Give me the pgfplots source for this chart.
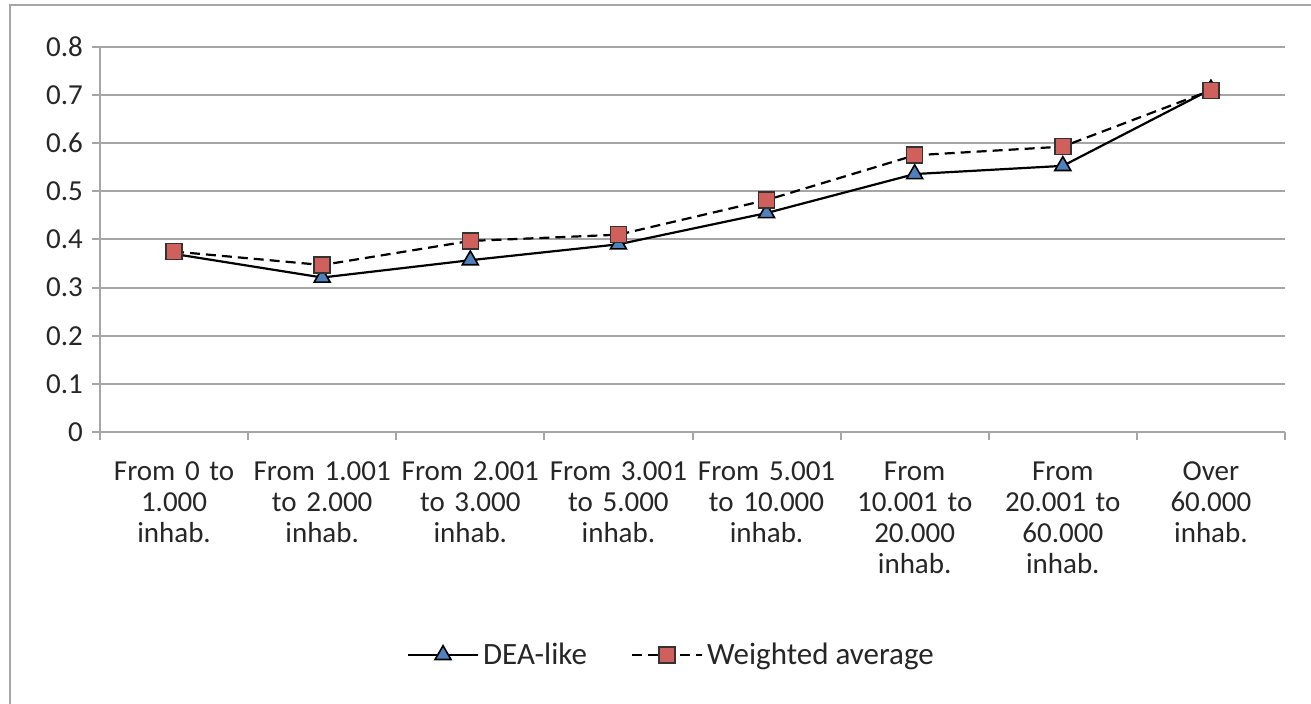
\documentclass[border=0pt]{standalone}
\usepackage{pgfplots}
\pgfplotsset{compat=1.18}
\usepackage{fontspec}
\setmainfont{Carlito}
\definecolor{gridgray}{HTML}{A6A6A6}
\definecolor{deablue}{HTML}{4F81BD}
\definecolor{wred}{HTML}{D0605C}
\definecolor{txt}{HTML}{262626}
\begin{document}
\begin{tikzpicture}[x=1pt,y=1pt]
\path[use as bounding box] (-50,-136) rectangle (605.5,216);
\draw[gridgray, line width=1pt] (-45,-137) -- (-45,213.5) -- (606,213.5);
\begin{axis}[
  scale only axis,
  width=592.5pt, height=192.5pt,
  xmin=0.5, xmax=8.5, ymin=0, ymax=0.8,
  axis x line*=bottom, axis y line*=left,
  axis line style={gridgray, line width=1pt, -},
  xtick={0.5,1.5,...,8.5},
  x tick label as interval,
  xticklabels={{From 0 to\\1.000\\inhab.},{From 1.001\\to 2.000\\inhab.},{From 2.001\\to 3.000\\inhab.},{From 3.001\\to 5.000\\inhab.},{From 5.001\\to 10.000\\inhab.},{From\\10.001 to\\20.000\\inhab.},{From\\20.001 to\\60.000\\inhab.},{Over\\60.000\\inhab.}},
  ytick={0,0.1,...,0.8},
  yticklabels={0,0.1,0.2,0.3,0.4,0.5,0.6,0.7,0.8},
  tick align=outside,
  major tick length=4pt,
  tick style={gridgray, line width=1pt},
  ymajorgrids,
  grid style={gridgray, line width=1pt},
  /pgf/number format/assume math mode=true,
  ticklabel style={font=\fontsize{14.5}{15.5}\selectfont, text=txt},
  xticklabel style={align=center, text width=80pt, yshift=-7.5pt},
  yticklabel style={xshift=-1pt},
  legend style={at={(0.483,-0.579)}, anchor=center, draw=none, fill=none,
    legend columns=2, font=\fontsize{15.5}{17}\selectfont, text=txt,
    /tikz/every even column/.append style={column sep=20pt}},
  legend cell align=left,
  legend image code/.code={
    \draw[mark repeat=2, mark phase=2, #1] plot coordinates {(0pt,0pt) (17.5pt,0pt) (35pt,0pt)};
  },
  clip=false,
]
\addplot[black, line width=1.1pt, mark=triangle*, mark size=4.6pt,
  mark options={fill=deablue, draw=black, line width=0.8pt, solid}]
  coordinates {(1,0.370) (2,0.321) (3,0.357) (4,0.390) (5,0.455) (6,0.536) (7,0.553) (8,0.712)};
\addlegendentry{DEA-like}
\addplot[black, line width=1.1pt, dash pattern=on 5pt off 3pt, mark=square*, mark size=4pt,
  mark options={fill=wred, draw=black!80, line width=0.8pt, solid}]
  coordinates {(1,0.375) (2,0.347) (3,0.397) (4,0.410) (5,0.482) (6,0.575) (7,0.593) (8,0.710)};
\addlegendentry{Weighted average}
\end{axis}
\end{tikzpicture}
\end{document}
